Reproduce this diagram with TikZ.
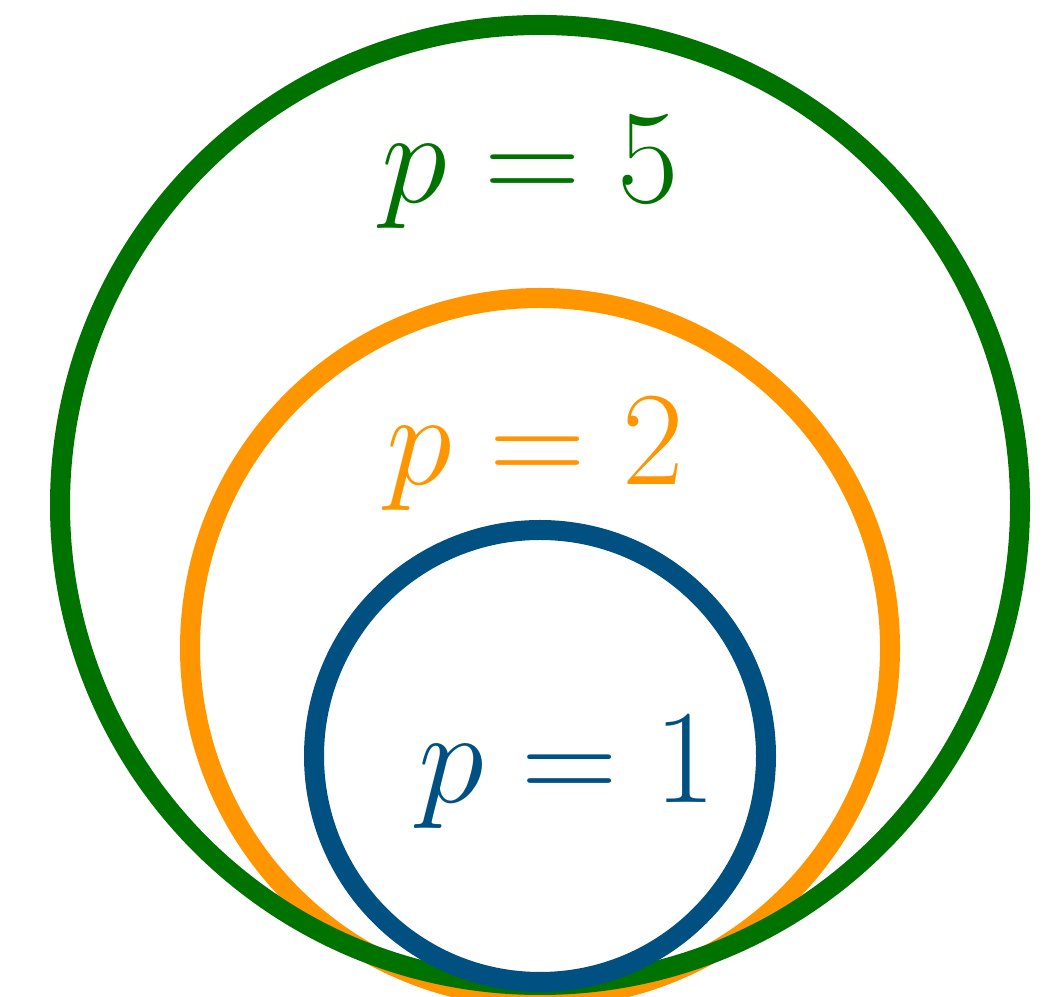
\documentclass[tikz,border=0pt]{standalone}
\usepackage{tikz}
\usetikzlibrary{positioning}
\definecolor{ringgreen}{RGB}{0,114,0}
\definecolor{ringorange}{RGB}{255,150,0}
\definecolor{ringblue}{RGB}{0,80,130}

\begin{document}
\begin{tikzpicture}[
        ring/.style={line width=0.2cm},
        plabel/.style={anchor=base, inner sep=0pt, font=\Huge, scale=1.53, transform shape}
    ]
        \useasboundingbox (0, 0) rectangle (10.46, 9.97);

        % Rings
        \draw[ring, ringorange] (5.40, 3.49) circle (3.50);
        \draw[ring, ringgreen] (5.40, 4.92) circle (4.80);
        \draw[ring, ringblue] (5.40, 2.41) circle (2.26);

        % Labels
        \node[plabel, text=ringgreen] (l5) at (5.30, 7.94) {$p = 5$};
        \node[plabel, text=ringorange] (l2) at (5.35, 5.12) {$p = 2$};
        \node[plabel, text=ringblue] (l1) at (5.67, 1.94) {$p = 1$};
    \end{tikzpicture}
\end{document}
